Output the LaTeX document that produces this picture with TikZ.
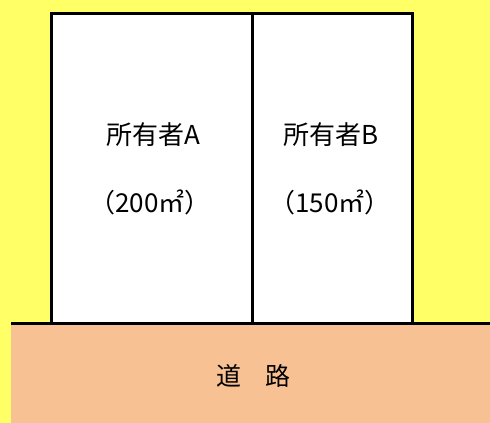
\documentclass[tikz,border=0pt]{standalone}
\usepackage{fontspec}
\newfontfamily\jp{Noto Sans CJK JP}
\definecolor{bgyellow}{HTML}{FFFF66}
\definecolor{road}{HTML}{F8C193}
\begin{document}
\begin{tikzpicture}[x=1pt,y=-1pt,
  lot/.style={draw=black,line width=3pt,fill=white},
  lbl/.style={font=\jp\fontsize{26}{30}\selectfont,inner sep=0pt}]
\fill[bgyellow] (0,0) rectangle (490,423);
\useasboundingbox (0,0) rectangle (490,423);
\fill[road] (11,323) rectangle (490,423);
\draw[lot] (51.5,13.5) rectangle (252,323);
\draw[lot] (252,13.5) rectangle (412.5,323);
\draw[line width=3pt] (11,323) -- (490,323);
\node[lbl] (a) at (153,135) {所有者A};
\node[lbl] (aa) at (150,202) {（200㎡）};
\node[lbl] (b) at (331,135) {所有者B};
\node[lbl] (bb) at (330,202) {（150㎡）};
\node[lbl,font=\jp\fontsize{25}{30}\selectfont] (r) at (253.5,376) {道\hspace{24pt}路};
\end{tikzpicture}
\end{document}
